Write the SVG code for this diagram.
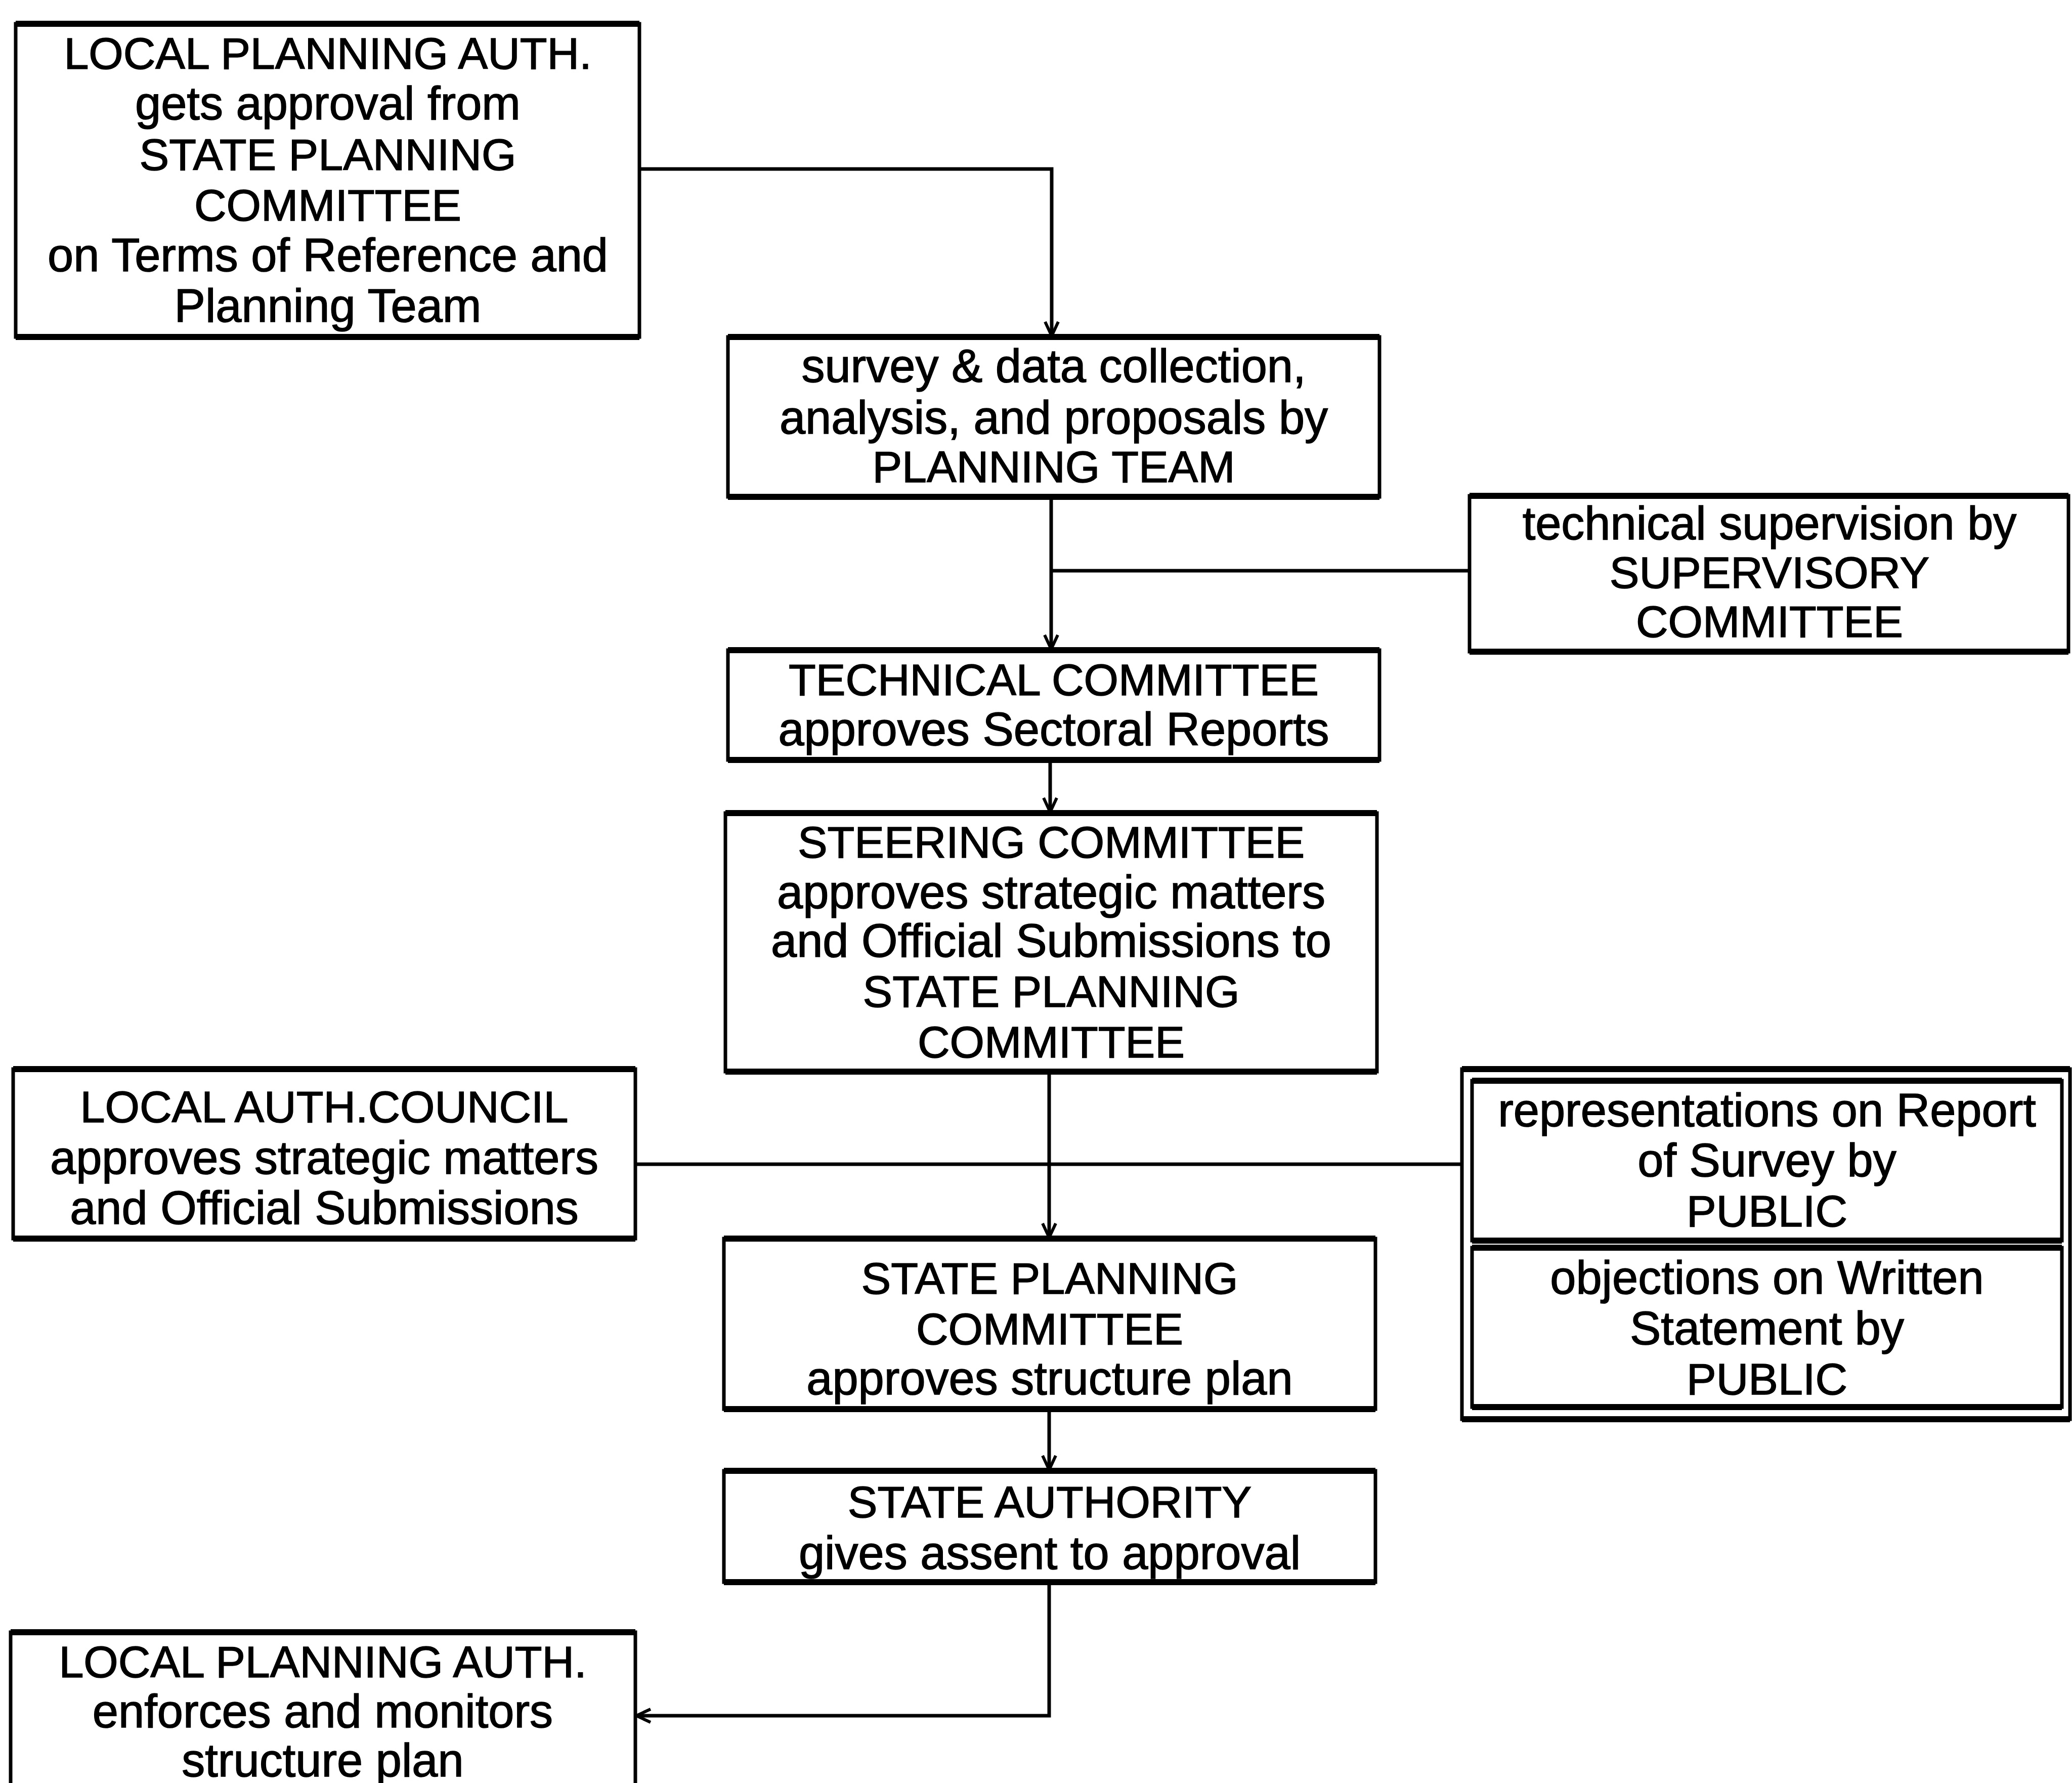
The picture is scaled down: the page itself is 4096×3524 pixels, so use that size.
<svg xmlns="http://www.w3.org/2000/svg" width="4096" height="3524" viewBox="0 0 4096 3524">
  <style>
    .box { fill: #ffffff; stroke: #000000; stroke-width: 7; }
    .edge { stroke: #000000; stroke-width: 12; fill: none; }
    .conn { stroke: #000000; stroke-width: 7; fill: none; }
    text { font-family: "Liberation Sans", Arial, Helvetica, sans-serif; font-size: 88px; fill: #000000; stroke: #000000; stroke-width: 1.5; text-anchor: middle; }
    text.lc { font-size: 92px; }
  </style>
  <defs>
    <marker id="chevron" markerUnits="userSpaceOnUse" viewBox="-34 -18 40 36" refX="0" refY="0" markerWidth="40" markerHeight="36" orient="auto" overflow="visible">
      <path d="M-28,-13 L0,0 L-28,13" fill="none" stroke="#000000" stroke-width="6"/>
    </marker>
  </defs>
  <rect x="0" y="0" width="4096" height="3524" fill="#ffffff"/>

  <g id="connectors">
    <path class="conn" d="M1264,334 H2079 V664" marker-end="url(#chevron)"/>
    <path class="conn" d="M2078,982 V1283" marker-end="url(#chevron)"/>
    <path class="conn" d="M2078,1128 H2905"/>
    <path class="conn" d="M2076,1502 V1605" marker-end="url(#chevron)"/>
    <path class="conn" d="M2074,2118 V2446" marker-end="url(#chevron)"/>
    <path class="conn" d="M1256,2301 H2889"/>
    <path class="conn" d="M2074,2785 V2905" marker-end="url(#chevron)"/>
    <path class="conn" d="M2074,3127 V3391 H1258" marker-end="url(#chevron)"/>
  </g>

  <g id="lpa-terms">
    <rect class="box" x="31" y="47" width="1233" height="619"/>
    <path class="edge" d="M31,47 H1264 M31,666 H1264"/>
    <text x="648" y="136">LOCAL PLANNING AUTH.</text>
    <text class="lc" x="648" y="236">gets approval from</text>
    <text x="648" y="336">STATE PLANNING</text>
    <text x="648" y="436">COMMITTEE</text>
    <text class="lc" x="648" y="536">on Terms of Reference and</text>
    <text class="lc" x="648" y="636">Planning Team</text>
  </g>

  <g id="planning-team">
    <rect class="box" x="1439" y="666" width="1288" height="316"/>
    <path class="edge" d="M1439,666 H2727 M1439,982 H2727"/>
    <text class="lc" x="2083" y="755">survey &amp; data collection,</text>
    <text class="lc" x="2083" y="857">analysis, and proposals by</text>
    <text x="2083" y="953">PLANNING TEAM</text>
  </g>

  <g id="supervisory-committee">
    <rect class="box" x="2905" y="980" width="1184" height="308"/>
    <path class="edge" d="M2905,980 H4089 M2905,1288 H4089"/>
    <text class="lc" x="3498" y="1066">technical supervision by</text>
    <text x="3498" y="1162">SUPERVISORY</text>
    <text x="3498" y="1259">COMMITTEE</text>
  </g>

  <g id="technical-committee">
    <rect class="box" x="1439" y="1285" width="1288" height="217"/>
    <path class="edge" d="M1439,1285 H2727 M1439,1502 H2727"/>
    <text x="2083" y="1374">TECHNICAL COMMITTEE</text>
    <text class="lc" x="2083" y="1473">approves Sectoral Reports</text>
  </g>

  <g id="steering-committee">
    <rect class="box" x="1434" y="1607" width="1288" height="511"/>
    <path class="edge" d="M1434,1607 H2722 M1434,2118 H2722"/>
    <text x="2078" y="1695">STEERING COMMITTEE</text>
    <text class="lc" x="2078" y="1795">approves strategic matters</text>
    <text class="lc" x="2078" y="1891">and Official Submissions to</text>
    <text x="2078" y="1990">STATE PLANNING</text>
    <text x="2078" y="2090">COMMITTEE</text>
  </g>

  <g id="local-auth-council">
    <rect class="box" x="26" y="2113" width="1230" height="335"/>
    <path class="edge" d="M26,2113 H1256 M26,2448 H1256"/>
    <text x="641" y="2218">LOCAL AUTH.COUNCIL</text>
    <text class="lc" x="641" y="2320">approves strategic matters</text>
    <text class="lc" x="641" y="2419">and Official Submissions</text>
  </g>

  <g id="public">
    <rect class="box" x="2890" y="2113" width="1202" height="692"/>
    <path class="edge" d="M2890,2113 H4092 M2890,2805 H4092"/>
    <rect class="box" x="2910" y="2136" width="1166" height="316"/>
    <path class="edge" d="M2910,2136 H4076 M2910,2452 H4076"/>
    <text class="lc" x="3493" y="2226">representations on Report</text>
    <text class="lc" x="3493" y="2325">of Survey by</text>
    <text x="3493" y="2424">PUBLIC</text>
    <rect class="box" x="2910" y="2466" width="1166" height="315"/>
    <path class="edge" d="M2910,2466 H4076 M2910,2781 H4076"/>
    <text class="lc" x="3493" y="2557">objections on Written</text>
    <text class="lc" x="3493" y="2657">Statement by</text>
    <text x="3493" y="2756">PUBLIC</text>
  </g>

  <g id="state-planning-committee">
    <rect class="box" x="1431" y="2448" width="1288" height="337"/>
    <path class="edge" d="M1431,2448 H2719 M1431,2785 H2719"/>
    <text x="2075" y="2557">STATE PLANNING</text>
    <text x="2075" y="2657">COMMITTEE</text>
    <text class="lc" x="2075" y="2756">approves structure plan</text>
  </g>

  <g id="state-authority">
    <rect class="box" x="1431" y="2907" width="1288" height="220"/>
    <path class="edge" d="M1431,2907 H2719 M1431,3127 H2719"/>
    <text x="2075" y="2999">STATE AUTHORITY</text>
    <text class="lc" x="2075" y="3101">gives assent to approval</text>
  </g>

  <g id="lpa-enforcement">
    <rect class="box" x="21" y="3226" width="1235" height="400"/>
    <path class="edge" d="M21,3226 H1256"/>
    <text x="638" y="3315">LOCAL PLANNING AUTH.</text>
    <text class="lc" x="638" y="3414">enforces and monitors</text>
    <text class="lc" x="638" y="3511">structure plan</text>
  </g>
</svg>
